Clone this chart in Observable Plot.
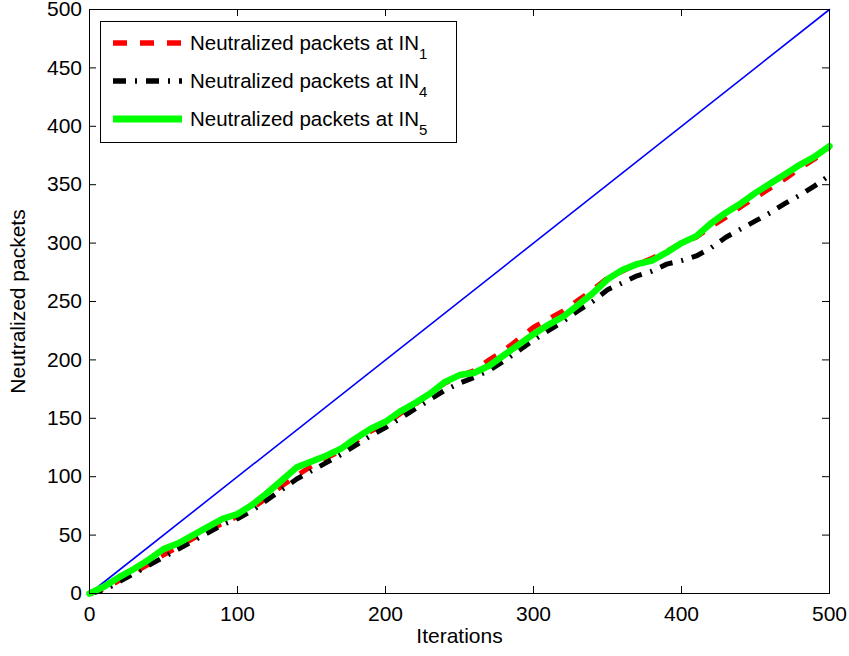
<!DOCTYPE html>
<html><head><meta charset="utf-8">
<script src="https://cdn.jsdelivr.net/npm/d3@7"></script>
<script src="https://cdn.jsdelivr.net/npm/@observablehq/plot@0.6"></script>
<style>
body{margin:0;background:#fff}
#chart{position:relative;width:849px;height:656px}
</style>
</head><body><div id="chart"></div>
<script>
// ---- data ----
const iterations = [0,10,20,30,40,50,60,70,80,90,100,110,120,130,140,150,160,170,180,190,200,210,220,230,240,250,260,270,280,290,300,310,320,330,340,350,360,370,380,390,400,410,420,430,440,450,460,470,480,490,500];
const in1 = [0,4,11,18,25,33,40,47,54,60,66,73,82,92,101,109,116,122,130,139,145,154,162,171,180,186,191,200,208,218,228,235,242,251,260,270,276,282,287,293,300,305,314,322,331,339,347,355,364,372,382];
const in4 = [0,3,10,17,24,31,38,45,52,59,64,71,80,89,98,105,112,119,127,135,142,150,158,166,174,180,185,191,199,208,217,225,233,242,250,260,266,272,276,282,285,289,296,305,312,319,326,334,341,349,358];
const in5 = [0,6,14,21,29,38,43,50,57,64,68,76,86,97,108,113,118,124,133,141,147,156,163,171,181,187,189,195,204,213,222,230,237,247,257,269,277,282,285,292,300,306,317,326,334,343,351,359,367,374,383];
const idealX = [0,500];
const idealY = [0,500];
const xTicks = [0,100,200,300,400,500];
const yTicks = [0,50,100,150,200,250,300,350,400,450,500];
const legendText = "Neutralized packets at IN";
const legendSubs = ["1","4","5"];
const xLabel = "Iterations";
const yLabel = "Neutralized packets";

// ---- tables ----
const rows = (ys) => iterations.map((t, i) => ({t, v: ys[i]}));
const ideal = idealX.map((x, i) => ({t: x, v: idealY[i]}));

const W = 849, H = 656, ML = 89, MR = 20, MT = 9, MB = 63;
const frameW = W - ML - MR, frameH = H - MT - MB, tk = 7;
const FONT = "'Liberation Sans', Arial, sans-serif";

const styles = [
  {stroke: "#ff0000", strokeWidth: 5, strokeDasharray: "14,13"},
  {stroke: "#000000", strokeWidth: 5, strokeDasharray: "13,9,2,9"},
  {stroke: "#00ff00", strokeWidth: 6.5}
];

const chart = Plot.plot({
  width: W, height: H,
  marginLeft: ML, marginRight: MR, marginTop: MT, marginBottom: MB,
  style: {fontFamily: FONT, fontSize: "21px", color: "black", background: "white"},
  x: {domain: [0, 500]},
  y: {domain: [0, 500]},
  marks: [
    Plot.line(ideal, {x: "t", y: "v", stroke: "#0000ff", strokeWidth: 1.6}),
    Plot.line(rows(in1), {x: "t", y: "v", ...styles[0], strokeLinecap: "butt", strokeLinejoin: "round"}),
    Plot.line(rows(in4), {x: "t", y: "v", ...styles[1], strokeLinecap: "butt", strokeLinejoin: "round"}),
    Plot.line(rows(in5), {x: "t", y: "v", ...styles[2], strokeLinejoin: "round"}),
    Plot.tickX(xTicks, {x: d => d, insetTop: frameH - tk, stroke: "black"}),
    Plot.tickX(xTicks, {x: d => d, insetBottom: frameH - tk, stroke: "black"}),
    Plot.tickY(yTicks, {y: d => d, insetRight: frameW - tk, stroke: "black"}),
    Plot.tickY(yTicks, {y: d => d, insetLeft: frameW - tk, stroke: "black"}),
    Plot.frame({stroke: "black", strokeWidth: 1}),
    Plot.axisX(xTicks, {tickSize: 0, tickPadding: 13, label: xLabel, labelAnchor: "center", labelOffset: 49, labelArrow: "none", fontSize: 21}),
    Plot.axisY(yTicks, {tickSize: 0, tickPadding: 7.5, label: yLabel, labelAnchor: "center", labelOffset: 79, labelArrow: "none", fontSize: 21})
  ]
});
document.getElementById("chart").appendChild(chart);

// ---- legend (layout in px) ----
const svg = d3.select(chart);
const lg = svg.append("g").attr("font-family", FONT).attr("text-anchor", "start");
lg.append("rect").attr("x", 100.5).attr("y", 21.5).attr("width", 356).attr("height", 121)
  .attr("fill", "white").attr("stroke", "black").attr("stroke-width", 1);
legendSubs.forEach((s, i) => {
  const cy = 43 + i * 38;
  const st = styles[i];
  lg.append("line").attr("x1", 113).attr("x2", 182).attr("y1", cy).attr("y2", cy)
    .attr("stroke", st.stroke).attr("stroke-width", st.strokeWidth + 0.5)
    .attr("stroke-dasharray", st.strokeDasharray || null);
  const t = lg.append("text").attr("x", 190).attr("y", cy + 7).attr("font-size", 20.5)
    .attr("fill", "black").attr("text-anchor", "start");
  t.append("tspan").text(legendText);
  t.append("tspan").attr("dy", 9).attr("font-size", 15).text(s);
});
</script>
</body></html>
